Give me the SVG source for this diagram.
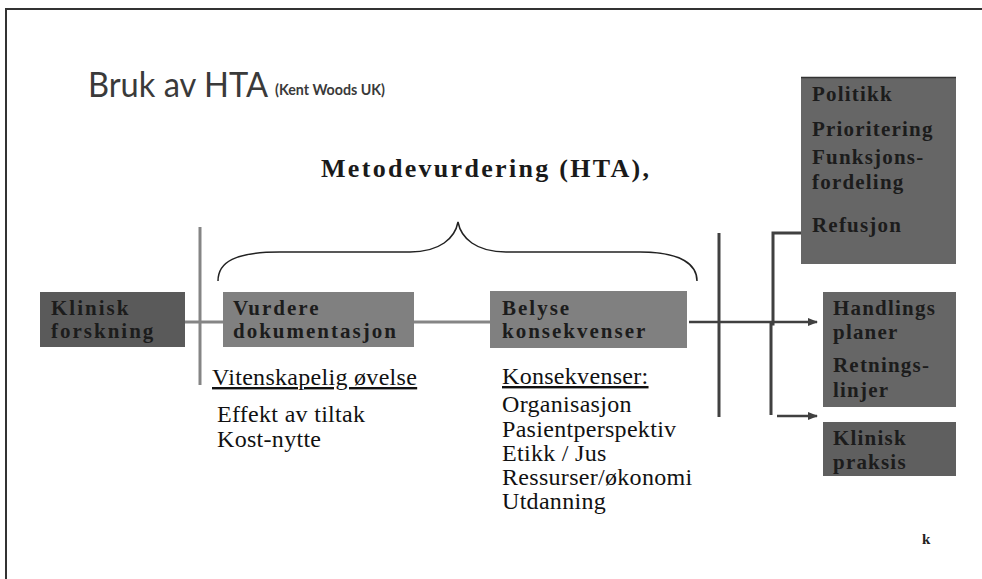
<svg xmlns="http://www.w3.org/2000/svg" width="982" height="579" viewBox="0 0 982 579">
<style>
.bx{font-family:"Liberation Serif","Times New Roman",serif;font-weight:bold;font-size:21px;fill:#1c1c1c;letter-spacing:2px}
.rb{font-family:"Liberation Serif","Times New Roman",serif;font-weight:bold;font-size:21px;fill:#1c1c1c;letter-spacing:1.2px}
.tx{font-family:"Liberation Serif","Times New Roman",serif;font-size:24px;fill:#111;letter-spacing:0.3px}
.gl{stroke:#858585;stroke-width:3;fill:none}
.dl{stroke:#404040;stroke-width:3;fill:none}
.ar{stroke:#404040;stroke-width:2.5;fill:none;marker-end:url(#ah)}
</style>
<defs>
<marker id="ah" viewBox="0 0 10 10" refX="9" refY="5" markerWidth="10" markerHeight="10" markerUnits="userSpaceOnUse" orient="auto">
<path d="M0,1 L10,5 L0,9 Z" fill="#404040"/>
</marker>
</defs>
<rect width="982" height="579" fill="#fff"/>
<path d="M6,579 V9 H982" stroke="#333" stroke-width="2" fill="none"/>

<g id="title">
<text x="88" y="97" font-family="Lato,'Open Sans',sans-serif" font-size="34" fill="#3a3a3a" textLength="180" lengthAdjust="spacingAndGlyphs">Bruk av HTA</text>
<text x="275" y="95" font-family="Lato,'Open Sans',sans-serif" font-size="15" font-weight="bold" fill="#3a3a3a" textLength="110" lengthAdjust="spacingAndGlyphs">(Kent Woods UK)</text>
</g>
<g id="heading">
<text x="321" y="177" font-family="'Liberation Serif',serif" font-weight="bold" font-size="26" letter-spacing="2.3" fill="#1a1a1a">Metodevurdering (HTA),</text>
</g>
<g id="brace">
<path d="M218,281 C218,262 235,252 280,252 L410,252 C440,252 455,238 458,222 C461,238 476,252 506,252 L640,252 C682,252 697,265 697,281" stroke="#222" stroke-width="1.5" fill="none"/>
</g>

<g id="connectors">
<line class="gl" x1="200" y1="227" x2="200" y2="385"/>
<line class="gl" x1="185" y1="322" x2="223" y2="322"/>
<line class="gl" x1="414" y1="322" x2="490" y2="322"/>
<line class="dl" x1="719" y1="233" x2="719" y2="417"/>
<line class="ar" x1="689" y1="322" x2="817" y2="322"/>
<path class="dl" d="M817,233 H773 V324 H771 V415"/>
<line class="ar" x1="777" y1="416" x2="817" y2="416"/>
</g>

<g id="klinisk-forskning">
<rect x="40" y="292" width="145" height="55" fill="#5a5a5a"/>
<text class="bx" x="51" y="315">Klinisk</text>
<text class="bx" x="51" y="338">forskning</text>
</g>
<g id="vurdere">
<rect x="223" y="292" width="191" height="55" fill="#808080"/>
<text class="bx" x="233" y="315">Vurdere</text>
<text class="bx" x="233" y="338">dokumentasjon</text>
</g>
<g id="belyse">
<rect x="490" y="291" width="197" height="57" fill="#808080"/>
<text class="bx" x="502" y="315">Belyse</text>
<text class="bx" x="502" y="338">konsekvenser</text>
</g>
<g id="politikk">
<rect x="801" y="77" width="155" height="187" fill="#666"/>
<line x1="801" y1="77.5" x2="956" y2="77.5" stroke="#333" stroke-width="1.5"/>
<text class="rb" x="812" y="101">Politikk</text>
<text class="rb" x="812" y="136">Prioritering</text>
<text class="rb" x="812" y="164">Funksjons-</text>
<text class="rb" x="812" y="189">fordeling</text>
<text class="rb" x="812" y="232">Refusjon</text>
</g>
<g id="handlings">
<rect x="823" y="292" width="133" height="115" fill="#666"/>
<text class="rb" x="833" y="315">Handlings</text>
<text class="rb" x="833" y="339">planer</text>
<text class="rb" x="833" y="372">Retnings-</text>
<text class="rb" x="833" y="397">linjer</text>
</g>
<g id="klinisk-praksis">
<rect x="823" y="422" width="133" height="54" fill="#5f5f5f"/>
<text class="rb" x="833" y="445">Klinisk</text>
<text class="rb" x="833" y="469">praksis</text>
</g>

<g id="vitenskapelig">
<text class="tx" x="212" y="385" text-decoration="underline">Vitenskapelig øvelse</text>
<text class="tx" x="217" y="422">Effekt av tiltak</text>
<text class="tx" x="217" y="447">Kost-nytte</text>
</g>
<g id="konsekvenser">
<text class="tx" x="502" y="384" text-decoration="underline">Konsekvenser:</text>
<text class="tx" x="502" y="412">Organisasjon</text>
<text class="tx" x="502" y="437">Pasientperspektiv</text>
<text class="tx" x="502" y="461">Etikk / Jus</text>
<text class="tx" x="502" y="485">Ressurser/økonomi</text>
<text class="tx" x="502" y="509">Utdanning</text>
</g>
<text x="922" y="544" font-family="'Liberation Serif',serif" font-weight="bold" font-size="15" fill="#222">k</text>
</svg>
